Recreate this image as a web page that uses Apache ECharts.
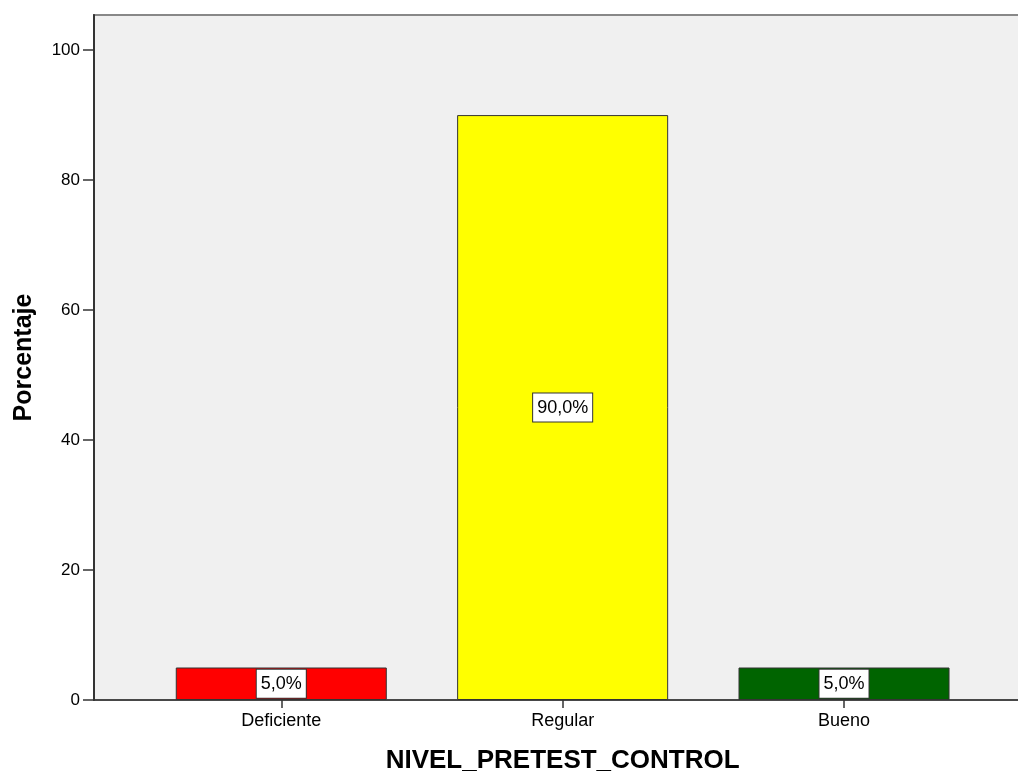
<!DOCTYPE html>
<html>
<head>
<meta charset="utf-8">
<script src="https://cdn.jsdelivr.net/npm/echarts@6/dist/echarts.min.js"></script>
<style>html,body{margin:0;padding:0;background:#fff;}#c{width:1018px;height:776px;}</style>
</head>
<body>
<div id="c"></div>
<script>
const categories = ['Deficiente', 'Regular', 'Bueno'];
const percentages = [5.0, 90.0, 5.0];
const barColors = ['#ff0000', '#ffff00', '#006400'];
const yTicks = [0, 20, 40, 60, 80, 100];
const yTitle = 'Porcentaje';
const xTitle = 'NIVEL_PRETEST_CONTROL';

const FONT = '"Liberation Sans", Arial, sans-serif';
const YMAX = 105.4;

const chart = echarts.init(document.getElementById('c'), null, {renderer: 'canvas'});
chart.setOption({
  animation: false,
  backgroundColor: '#ffffff',
  grid: [
    {left: 94, right: -5, top: 15, bottom: 76, outerBoundsMode: 'none', containLabel: false, show: true, backgroundColor: '#f0f0f0', borderColor: '#888888', borderWidth: 2},
    {left: 140.6, right: 33.3, top: 15, bottom: 76, outerBoundsMode: 'none', containLabel: false}
  ],
  xAxis: [
    {type: 'value', gridIndex: 0, min: 0, max: 1, axisLine: {show: true, onZero: false, lineStyle: {color: '#333333', width: 1.5}},
     axisTick: {show: false}, axisLabel: {show: false}, splitLine: {show: false}},
    {type: 'category', gridIndex: 1, data: categories,
     axisLine: {show: false}, axisTick: {show: true, alignWithLabel: true, length: 8, lineStyle: {color: '#333333', width: 1.5}},
     axisLabel: {fontFamily: FONT, fontSize: 18, color: '#000', margin: 12},
     name: xTitle, nameLocation: 'middle', nameGap: 48,
     nameTextStyle: {fontFamily: FONT, fontSize: 26, fontWeight: 'bold', color: '#000'}}
  ],
  yAxis: [
    {type: 'value', gridIndex: 0, min: 0, max: YMAX, interval: 20,
     axisLine: {show: true, lineStyle: {color: '#333333', width: 2}},
     axisTick: {show: true, length: 11, customValues: yTicks, lineStyle: {color: '#333333', width: 1.5}},
     axisLabel: {fontFamily: FONT, fontSize: 17, color: '#000', margin: 14, customValues: yTicks},
     splitLine: {show: false},
     name: yTitle, nameLocation: 'middle', nameGap: 57,
     nameTextStyle: {fontFamily: FONT, fontSize: 25, fontWeight: 'bold', color: '#000'}},
    {type: 'value', gridIndex: 1, min: 0, max: YMAX, show: false, splitLine: {show: false}}
  ],
  series: [{
    type: 'bar',
    xAxisIndex: 1, yAxisIndex: 1,
    barWidth: '75%',
    data: percentages.map((v, i) => ({value: v, itemStyle: {color: barColors[i]}})),
    itemStyle: {borderColor: '#333333', borderWidth: 1},
    label: {
      show: true, position: 'inside',
      formatter: p => p.value.toFixed(1).replace('.', ',') + '%',
      fontFamily: FONT, fontSize: 18, color: '#000', lineHeight: 18,
      backgroundColor: '#ffffff', borderColor: '#333333', borderWidth: 1, padding: [5, 4]
    }
  }]
});
</script>
</body>
</html>
